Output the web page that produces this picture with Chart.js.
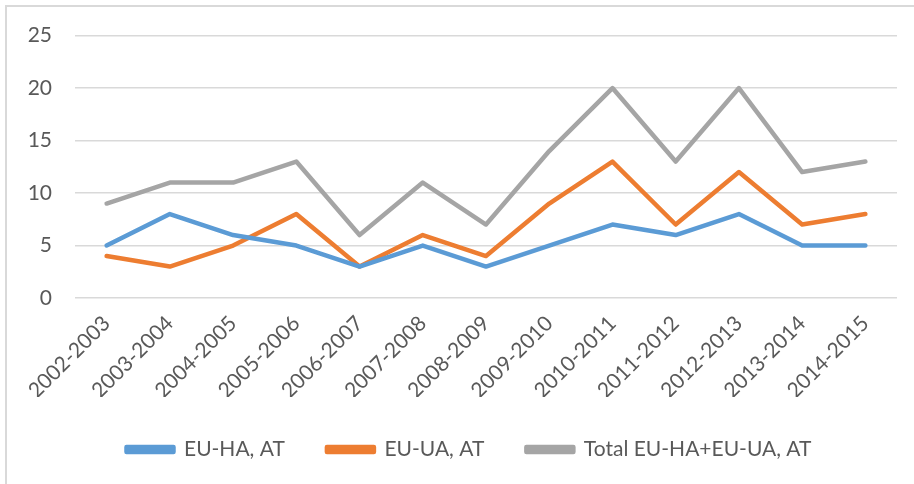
<!DOCTYPE html>
<html>
<head>
<meta charset="utf-8">
<script src="https://cdn.jsdelivr.net/npm/chart.js@4"></script>
<style>
  html, body { margin: 0; padding: 0; background: #fff; }
  #wrap { position: relative; width: 914px; height: 484px; overflow: hidden; }
  #frame { position: absolute; left: 5px; top: 5px; width: 940px; height: 520px; border: 2px solid #d9d9d9; box-sizing: border-box; }
  canvas { position: absolute; left: 0; top: 0; }
</style>
</head>
<body>
<div id="wrap">
  <div id="frame"></div>
  <canvas id="chart" width="914" height="484"></canvas>
</div>
<script>
const seasons = ['2002-2003','2003-2004','2004-2005','2005-2006','2006-2007','2007-2008','2008-2009','2009-2010','2010-2011','2011-2012','2012-2013','2013-2014','2014-2015'];
const euHA = [5, 8, 6, 5, 3, 5, 3, 5, 7, 6, 8, 5, 5];
const euUA = [4, 3, 5, 8, 3, 6, 4, 9, 13, 7, 12, 7, 8];
const total = [9, 11, 11, 13, 6, 11, 7, 14, 20, 13, 20, 12, 13];
const yTicks = [0, 5, 10, 15, 20, 25];

const FONT = 'Lato, "Open Sans", sans-serif';
const TEXT = '#595959';

function series(label, data, color) {
  return {
    label, data,
    borderColor: color, backgroundColor: color,
    borderWidth: 4.5, pointRadius: 0, pointHoverRadius: 0,
    tension: 0, borderJoinStyle: 'round', borderCapStyle: 'round'
  };
}

// Centre the legend row under the plot area rather than the whole canvas
const legendShift = {
  id: 'legendShift',
  afterLayout(chart) {
    const lg = chart.legend;
    if (lg) { lg.left += 41; }
  }
};

new Chart(document.getElementById('chart'), {
  type: 'line',
  data: {
    labels: seasons,
    datasets: [
      series('EU-HA, AT', euHA, '#5B9BD5'),
      series('EU-UA, AT', euUA, '#ED7D31'),
      series('Total EU-HA+EU-UA, AT', total, '#A5A5A5')
    ]
  },
  plugins: [legendShift],
  options: {
    responsive: false,
    animation: false,
    layout: { padding: { top: 28, right: 17, bottom: 14, left: 0 } },
    plugins: {
      tooltip: { enabled: false },
      legend: {
        position: 'bottom',
        labels: {
          font: { family: FONT, size: 21 },
          color: TEXT,
          boxWidth: 47,
          boxHeight: 5,
          padding: 42
        }
      }
    },
    scales: {
      x: {
        offset: true,
        grid: { display: false },
        border: { display: false },
        ticks: {
          minRotation: 45, maxRotation: 45,
          font: { family: FONT, size: 21 },
          color: TEXT,
          padding: 5
        },
        afterFit(scale) { scale.height = 99; }
      },
      y: {
        min: 0, max: 25,
        afterBuildTicks(scale) { scale.ticks = yTicks.map(v => ({ value: v })); },
        grid: { color: '#d9d9d9', lineWidth: 1.5, drawTicks: false },
        border: { display: false },
        ticks: {
          font: { family: FONT, size: 21 },
          color: TEXT,
          padding: 23
        },
        afterFit(scale) { scale.width = 75; }
      }
    }
  }
});
</script>
</body>
</html>
